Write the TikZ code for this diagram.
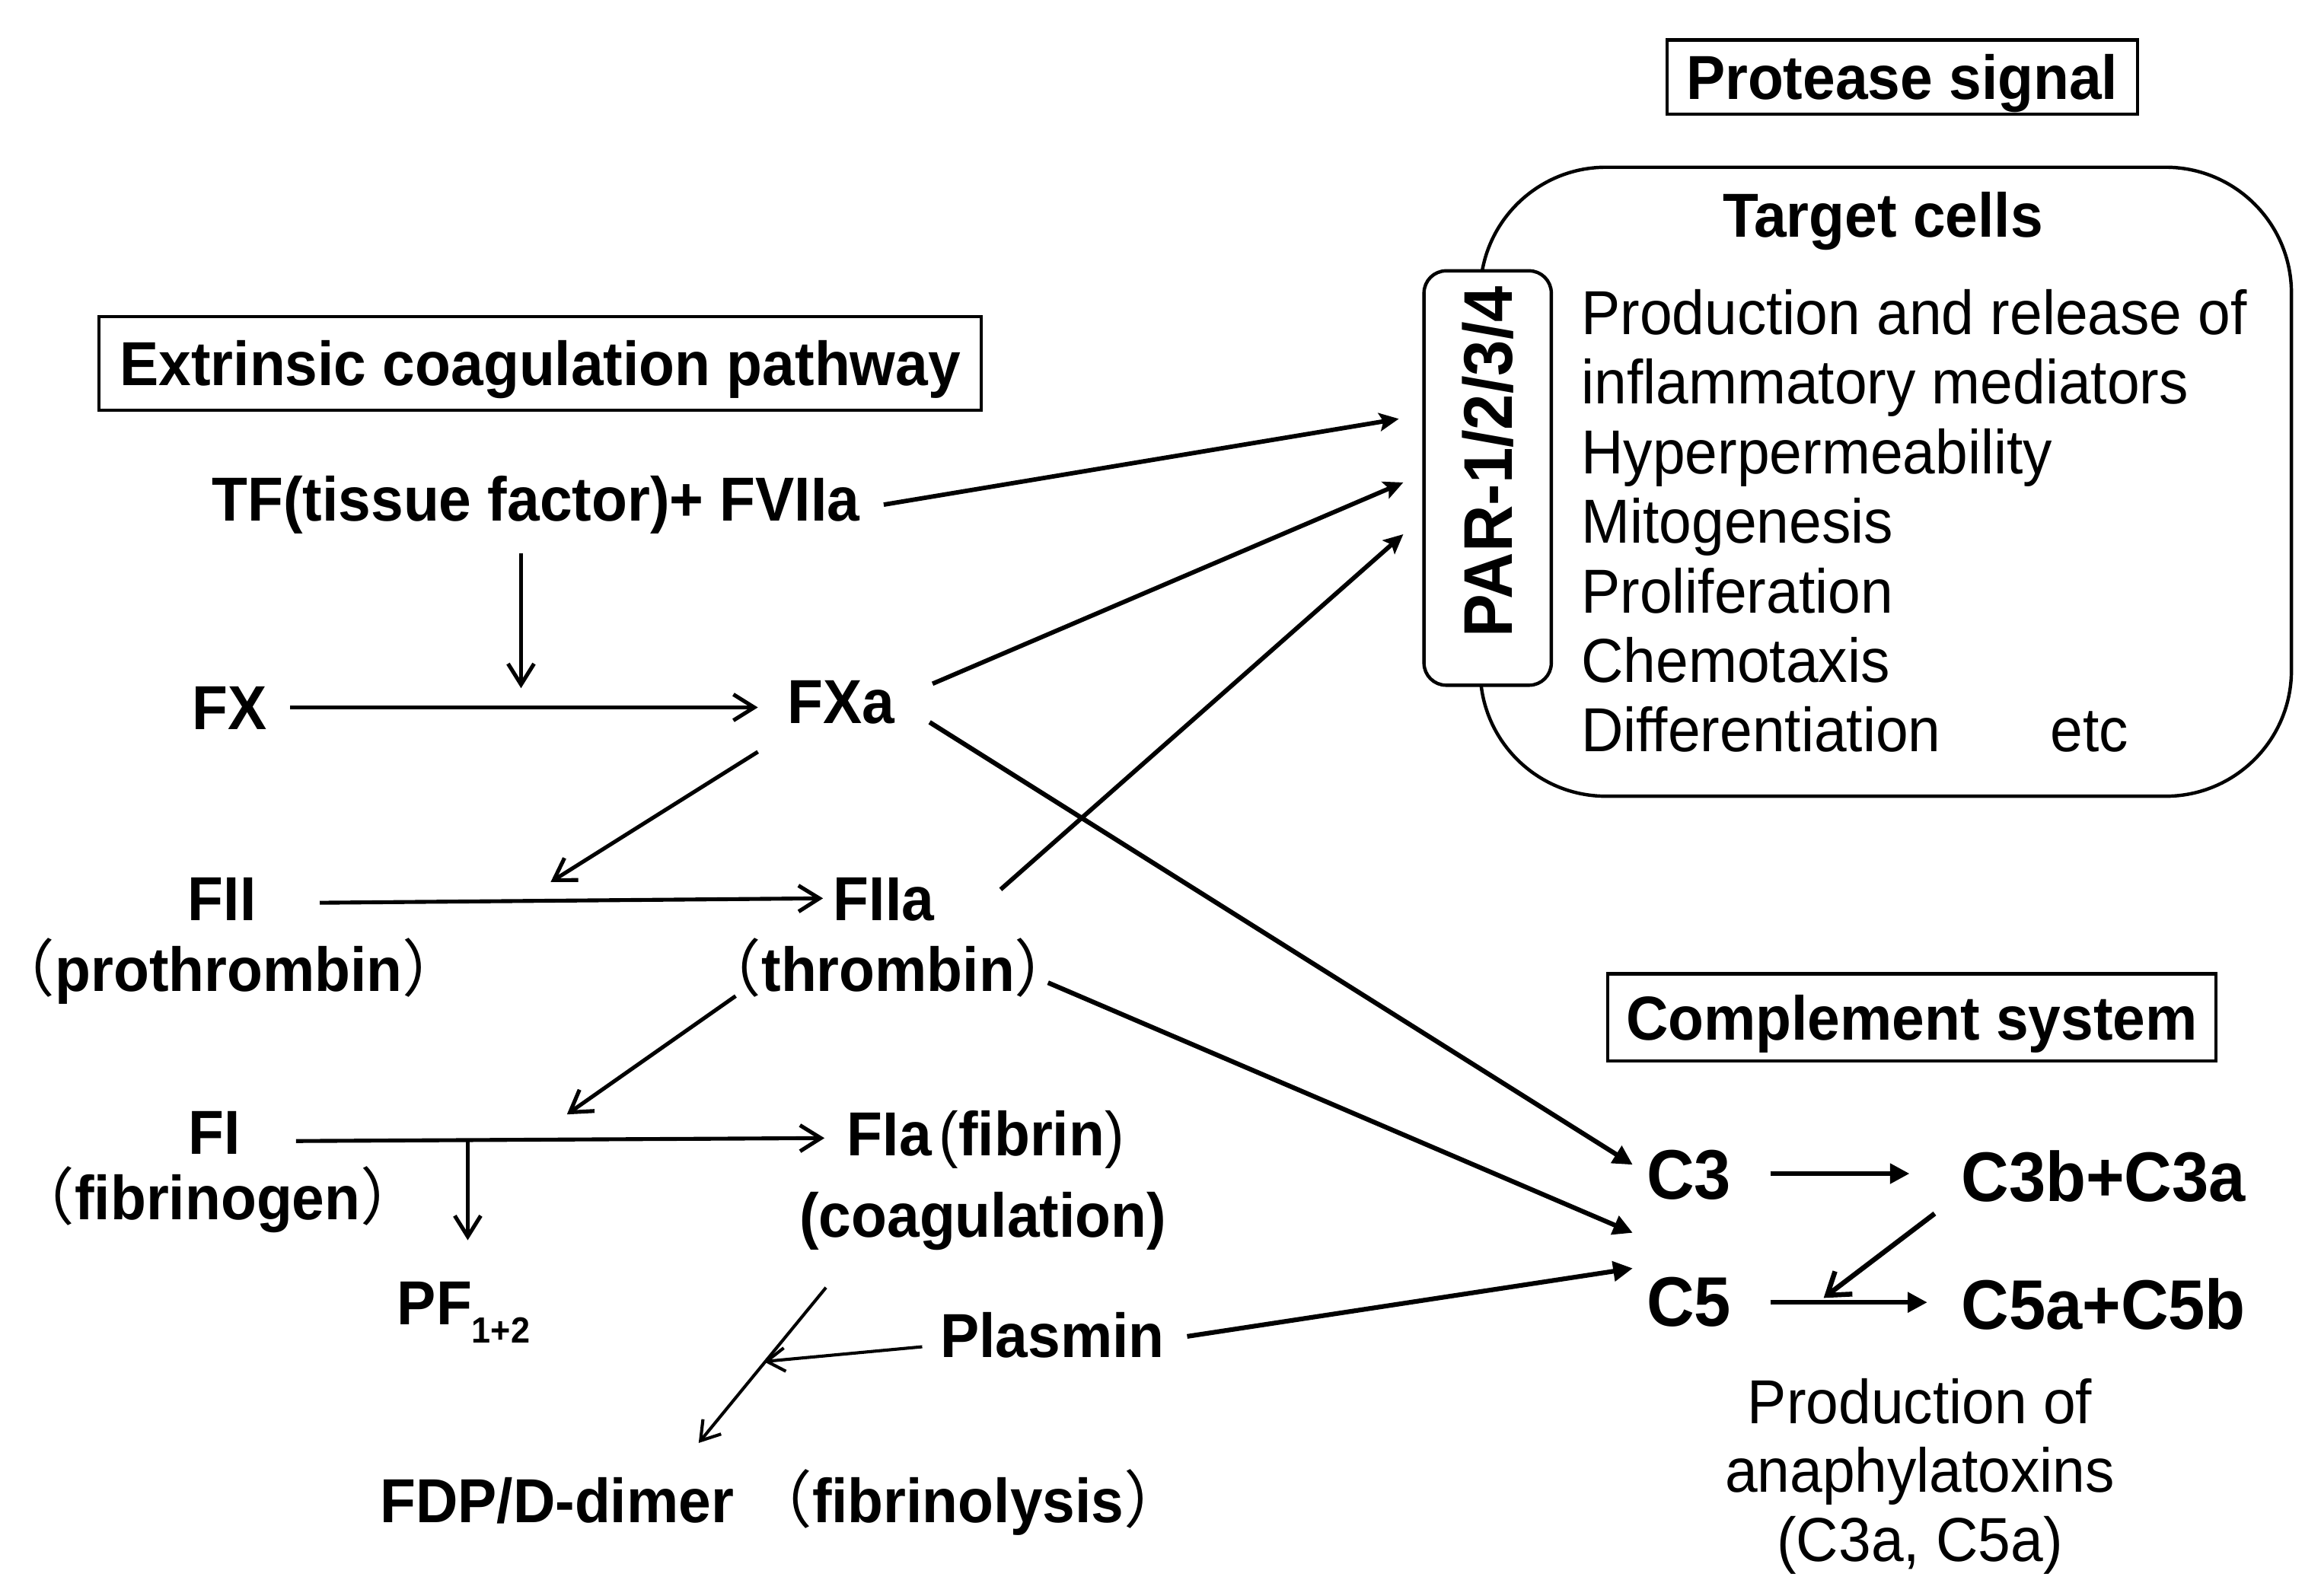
\documentclass[tikz,border=0pt]{standalone}
\usepackage{fontspec}
\setmainfont{Liberation Sans}[FakeStretch=0.94]
\newfontfamily\cjk{Noto Sans CJK SC}
\usetikzlibrary{arrows.meta}
\newcommand\lp{{\cjk\mdseries （}}
\newcommand\rp{{\cjk\mdseries ）}}
\begin{document}
\begin{tikzpicture}[x=0.02cm,y=-0.02cm,
  bt/.style={anchor=base, inner sep=0pt, font=\fontsize{23.9}{28}\selectfont\bfseries},
  ct/.style={anchor=base, inner sep=0pt, font=\fontsize{27}{30}\selectfont\bfseries},
  nt/.style={anchor=base west, inner sep=0pt, font=\fontsize{23.9}{28}\selectfont},
  nc/.style={anchor=base, inner sep=0pt, font=\fontsize{23.9}{28}\selectfont},
  hbox/.style={draw, line width=1.2pt, inner sep=0pt, text height=17.1pt, text depth=0pt,
     font=\fontsize{23.9}{28}\selectfont\bfseries},
  thin/.style={line width=1.5pt, -{Straight Barb[length=8pt,width=10pt,line width=1.5pt]}},
  thinner/.style={line width=1.2pt, -{Straight Barb[length=7pt,width=9pt,line width=1.2pt]}},
  par/.style={line width=1.7pt, -{Stealth[length=7.5pt,width=7pt,inset=1.5pt]}},
  comp/.style={line width=1.8pt, -{Triangle[length=7.5pt,width=7.5pt]}},
  compbarb/.style={line width=1.9pt, -{Straight Barb[length=8pt,width=11pt,line width=1.9pt]}}
]
\useasboundingbox (0,0) rectangle (1568,1078);

% ---- protease signal / target cells
\node[hbox, minimum width=6.36cm, minimum height=1.0cm] (protease) at (1285,52) {Protease signal};
\draw[line width=1.3pt, rounded corners=1.7cm] (1000,113) rectangle (1548,538);
\node[bt] (target) at (1272,160) {Target cells};
\draw[line width=1.3pt, fill=white, rounded corners=0.3cm] (962,183) rectangle (1048,463);
\node[rotate=90, inner sep=0pt, font=\fontsize{26.5}{28}\selectfont\bfseries]
      (par) at (1005,312) {PAR-1/2/3/4};
\node[nt] (l1) at (1068,226) {Production and release of};
\node[nt] (l2) at (1068,273) {inflammatory mediators};
\node[nt] (l3) at (1068,320) {Hyperpermeability};
\node[nt] (l4) at (1068,367) {Mitogenesis};
\node[nt] (l5) at (1068,414) {Proliferation};
\node[nt] (l6) at (1068,461) {Chemotaxis};
\node[nt] (l7) at (1068,508) {Differentiation};
\node[nt] (etc) at (1385,508) {etc};

% ---- extrinsic pathway
\node[hbox, minimum width=11.92cm, minimum height=1.26cm] (extr) at (365,245.5) {Extrinsic coagulation pathway};
\node[bt] (tf) at (362,352) {TF(tissue factor)+ FVIIa};
\node[bt] (fx) at (155,493) {FX};
\node[bt] (fxa) at (568,489) {FXa};
\node[bt] (fii) at (150,622) {FII};
\node[bt] (prothr) at (164,670) {\hspace{-0.45em}\lp prothrombin\rp\hspace{-0.45em}};
\node[bt] (fiia) at (597,622) {FIIa};
\node[bt] (thr) at (600,670) {\lp thrombin\rp};
\node[bt] (fi) at (145,780) {FI};
\node[bt] (fibg) at (147,824) {\lp fibrinogen\rp};
\node[anchor=base west, inner sep=0pt, font=\fontsize{23.9}{28}\selectfont\bfseries] (fia) at (572,781)
   {FIa\hspace{0.12em}{\mdseries(}fibrin{\mdseries)}};
\node[bt] (coag) at (664,836) {(coagulation)};
\node[anchor=base west, inner sep=0pt, font=\fontsize{23.9}{28}\selectfont\bfseries] (pf) at (268,895)
   {PF\raisebox{-0.3em}{\fontsize{14}{16}\selectfont 1+2}};
\node[bt] (plasmin) at (711,917) {Plasmin};
\node[bt] (fdp) at (529,1029) {FDP/D-dimer \lp fibrinolysis\rp};

% ---- complement
\node[hbox, minimum width=8.22cm, minimum height=1.18cm] (compl) at (1291.5,687.5) {Complement system};
\node[ct] (c3) at (1141,810) {C3};
\node[ct] (c3b) at (1421,812) {C3b+C3a};
\node[ct] (c5) at (1141,896) {C5};
\node[ct] (c5a) at (1421,898) {C5a+C5b};
\node[nc] (ana1) at (1297,962) {Production of};
\node[nc] (ana2) at (1297,1008) {anaphylatoxins};
\node[nc] (ana3) at (1297,1055) {(C3a, C5a)};

% ---- connector end points
\coordinate (tfout) at (597,341);
\coordinate (par1) at (945,283);
\coordinate (fxaout1) at (630,462);
\coordinate (par2) at (948,326);
\coordinate (fiiaout) at (676,601);
\coordinate (par3) at (948,361);
\coordinate (tfdown) at (352,374);
\coordinate (onfx) at (352,465);
\coordinate (fxout) at (196,478);
\coordinate (fxain) at (512,478);
\coordinate (fxadown) at (512,508);
\coordinate (onfii) at (372,596);
\coordinate (fiiout) at (216,610);
\coordinate (fiiain) at (556,607);
\coordinate (fxaout2) at (628,488);
\coordinate (c3in) at (1103,787);
\coordinate (throut) at (708,664);
\coordinate (c5in1) at (1103,833);
\coordinate (thrdown) at (497,673);
\coordinate (onfi) at (383,753);
\coordinate (fiout) at (200,771);
\coordinate (fiain) at (557,769);
\coordinate (branch) at (316,771);
\coordinate (pfin) at (316,838);
\coordinate (coagout) at (558,870);
\coordinate (fdpin) at (472,975);
\coordinate (plasout1) at (623,910);
\coordinate (onlysis) at (516,920);
\coordinate (plasout2) at (802,903);
\coordinate (c5in2) at (1103,857);
\coordinate (c3out) at (1196,793);
\coordinate (c3bin) at (1290,793);
\coordinate (c5out) at (1196,880);
\coordinate (c5ain) at (1302,880);
\coordinate (c3bout) at (1307,820);
\coordinate (onc5) at (1232,877);

% ---- connectors
\draw[par] (tfout) -- (par1);
\draw[par] (fxaout1) -- (par2);
\draw[par] (fiiaout) -- (par3);
\draw[thin] (tfdown) -- (onfx);
\draw[thin] (fxout) -- (fxain);
\draw[thin] (fxadown) -- (onfii);
\draw[thin] (fiiout) -- (fiiain);
\draw[comp] (fxaout2) -- (c3in);
\draw[comp] (throut) -- (c5in1);
\draw[thin] (thrdown) -- (onfi);
\draw[thin] (fiout) -- (fiain);
\draw[thin] (branch) -- (pfin);
\draw[thinner] (coagout) -- (fdpin);
\draw[thinner] (plasout1) -- (onlysis);
\draw[comp] (plasout2) -- (c5in2);
\draw[comp] (c3out) -- (c3bin);
\draw[comp] (c5out) -- (c5ain);
\draw[compbarb] (c3bout) -- (onc5);
\end{tikzpicture}
\end{document}
